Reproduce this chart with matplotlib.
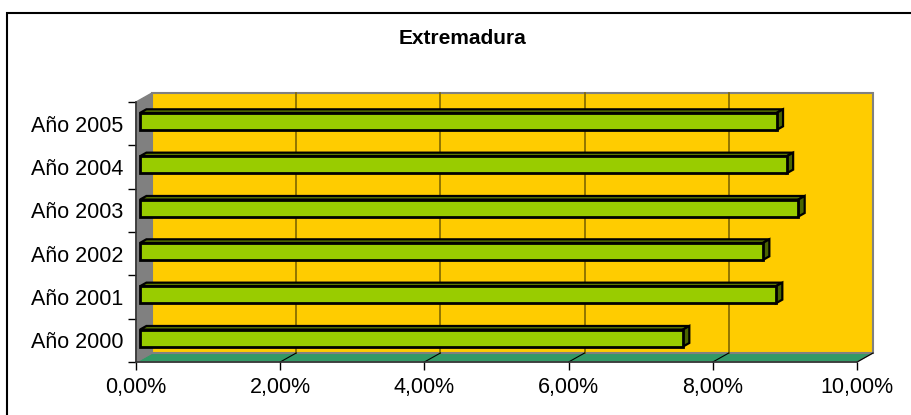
"""Extremadura: 3D-style horizontal bar chart (Excel look) rebuilt with matplotlib."""

import matplotlib
matplotlib.use("Agg")
import matplotlib.pyplot as plt
from matplotlib.patches import Polygon, Rectangle

plt.rcParams["font.family"] = ["Liberation Sans", "DejaVu Sans"]

# data
title = "Extremadura"
years = ["Año 2000", "Año 2001", "Año 2002", "Año 2003", "Año 2004", "Año 2005"]
values = [7.53, 8.82, 8.64, 9.13, 8.97, 8.83]  # percent
x_ticks = [0, 2, 4, 6, 8, 10]
x_tick_labels = ["0,00%", "2,00%", "4,00%", "6,00%", "8,00%", "10,00%"]

# colours
WALL = "#FFCC00"
SIDE_WALL = "#808080"
FLOOR = "#339966"
BAR_FRONT = "#99CC00"
BAR_TOP = "#5C7A00"
BAR_SIDE = "#4A6400"
GRID = "#7F6600"

W, H = 911, 415
fig = plt.figure(figsize=(W / 100, H / 100), dpi=100)

# front plane of the 3D box, in pixels
left_px, right_px, top_px, bottom_px = 136, 857, 102, 362
ax = fig.add_axes([left_px / W, (H - bottom_px) / H,
                   (right_px - left_px) / W, (bottom_px - top_px) / H])
ax.set_xlim(0, 10)
ax.set_ylim(0, len(years))
ax.patch.set_visible(False)

# depth of the box in data units (16 px right, 9 px up)
px_x = (right_px - left_px) / 10
px_y = (bottom_px - top_px) / len(years)
DX = 16 / px_x
DY = 9 / px_y
n = len(years)


def poly(pts, fc, ec="none", lw=0.0, z=1):
    ax.add_patch(Polygon(pts, closed=True, facecolor=fc, edgecolor=ec,
                         linewidth=lw, zorder=z, clip_on=False))


# walls and floor
poly([(0, 0), (0, n), (DX, n + DY), (DX, DY)], SIDE_WALL, z=1)
poly([(0, 0), (10, 0), (10 + DX, DY), (DX, DY)], FLOOR, ec="#808080", lw=1.0, z=1)
poly([(DX, DY), (10 + DX, DY), (10 + DX, n + DY), (DX, n + DY)], WALL,
     ec="#808080", lw=1.5, z=1)
poly([(0, n), (DX, n + DY), (DX, DY), (0, 0)], "none", ec="#808080", lw=1.0, z=1)

# gridlines on back wall and floor
for xt in x_ticks[1:-1]:
    ax.plot([xt + DX, xt + DX], [DY, n + DY], color=GRID, lw=1.2, zorder=2,
            clip_on=False)
    ax.plot([xt, xt + DX], [0, DY], color="black", lw=0.8, zorder=2,
            clip_on=False)
ax.plot([10, 10 + DX], [0, DY], color="black", lw=0.8, zorder=2, clip_on=False)

# bars: front face between depth d0 and d1
d0, d1 = 0.25, 0.65
bar_h = 17 / px_y
for i, v in enumerate(values):
    x0 = d0 * DX
    x1 = v + d0 * DX
    yc = i + 0.5 + d0 * DY
    yb, yt = yc - bar_h / 2, yc + bar_h / 2
    ddx, ddy = (d1 - d0) * DX, (d1 - d0) * DY
    poly([(x0, yt), (x1, yt), (x1 + ddx, yt + ddy), (x0 + ddx, yt + ddy)],
         BAR_TOP, ec="black", lw=1.6, z=3)
    poly([(x1, yb), (x1, yt), (x1 + ddx, yt + ddy), (x1 + ddx, yb + ddy)],
         BAR_SIDE, ec="black", lw=1.6, z=3)
    ax.add_patch(Rectangle((x0, yb), x1 - x0, yt - yb, facecolor=BAR_FRONT,
                           edgecolor="black", linewidth=2.0, zorder=4,
                           clip_on=False))

# axes
for s in ("top", "right"):
    ax.spines[s].set_visible(False)
for s in ("left", "bottom"):
    ax.spines[s].set_color("#333333")
    ax.spines[s].set_linewidth(1.2)
    ax.spines[s].set_zorder(5)

ax.set_xticks(x_ticks)
ax.set_xticklabels(x_tick_labels)
ax.set_yticks(range(n + 1))
ax.set_yticklabels([])
ax.set_yticks([i + 0.5 for i in range(n)], minor=True)
ax.set_yticklabels(years, minor=True)
ax.tick_params(axis="x", length=6, width=1, direction="out", pad=5,
               labelsize=15.5, colors="black")
ax.tick_params(axis="y", which="major", length=6, width=1, direction="out")
ax.tick_params(axis="y", which="minor", length=0, pad=9, labelsize=15.5)

fig.text(462 / W, 1 - 39 / H, title, ha="center", va="center",
         fontsize=15, fontweight="bold")

# chart border (right and bottom edges fall outside the picture)
fig.add_artist(Rectangle((7 / W, -0.1), 1.2, (1 - 13 / H) + 0.1,
                         transform=fig.transFigure, fill=False,
                         edgecolor="black", linewidth=1.5))

fig.savefig("out.png", dpi=100)
